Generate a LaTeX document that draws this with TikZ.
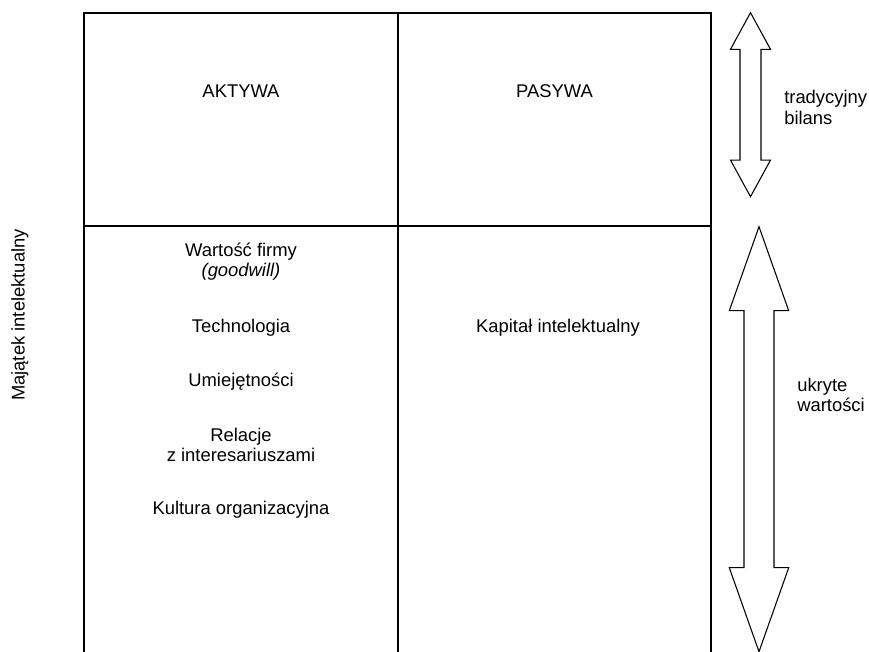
\documentclass[tikz,border=0pt]{standalone}
\usepackage{fontspec}
\setmainfont{Liberation Sans}
\usetikzlibrary{positioning,calc}

% hollow two-headed arrow: x, top, bottom, head half width, shaft half width, head length
\newcommand{\hollowArrow}[6]{%
  \draw[arrowshape] (#1,#2) -- ({#1+#4},{#2+#6}) -- ({#1+#5},{#2+#6})
    -- ({#1+#5},{#3-#6}) -- ({#1+#4},{#3-#6}) -- (#1,#3)
    -- ({#1-#4},{#3-#6}) -- ({#1-#5},{#3-#6}) -- ({#1-#5},{#2+#6})
    -- ({#1-#4},{#2+#6}) -- cycle;}

\begin{document}
\begin{tikzpicture}[
    x=0.75pt, y=-0.75pt,
    font=\fontsize{13.8}{15.5}\selectfont,
    frame/.style={line width=1.5pt},
    arrowshape/.style={draw, line width=0.8pt, line join=miter},
    celltext/.style={align=center, inner sep=0pt},
    sidetext/.style={align=left, inner sep=0pt, anchor=west}
]
\useasboundingbox (0,0) rectangle (869,652);

% Table frame
\coordinate (tl) at (84,12.7);
\coordinate (tr) at (711,12.7);
\coordinate (bl) at (84,652);
\coordinate (br) at (711,652);
\draw[frame] (bl) -- (tl) -- (tr) -- (br);
\draw[frame] (397.7,12.7) -- (397.7,652);
\draw[frame] (84,226.3) -- (711,226.3);

% Column headers
\node[celltext] (aktywa) at (241,90.7) {AKTYWA};
\node[celltext] (pasywa) at (554.5,90.7) {PASYWA};

% Hidden values
\node[celltext] (goodwill) at (241,261.7) {Wartość firmy\\\textit{(goodwill)}};
\node[celltext] (technologia) at (241,328) {Technologia};
\node[celltext] (umiejetnosci) at (241,381.7) {Umiejętności};
\node[celltext] (relacje) at (241,445) {Relacje\\z interesariuszami};
\node[celltext] (kultura) at (241,510) {Kultura organizacyjna};
\node[celltext] (kapital) at (558,328) {Kapitał intelektualny};

% Side label
\node[celltext, rotate=90] (majatek) at (20,315) {Majątek intelektualny};

% Arrows
\hollowArrow{750.5}{12.7}{196.7}{20}{10.5}{36.6}
\hollowArrow{759}{226.7}{651.7}{29.7}{15}{84}

\node[sidetext] (tradycyjny) at (784,107.5) {tradycyjny\\bilans};
\node[sidetext] (ukryte) at (797,395) {ukryte\\wartości};

\end{tikzpicture}
\end{document}
